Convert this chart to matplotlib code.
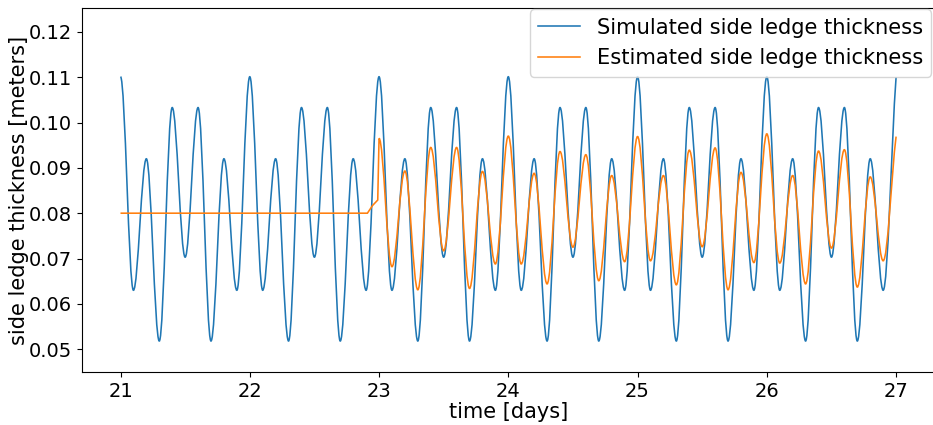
import matplotlib
matplotlib.use("Agg")
import matplotlib.pyplot as plt
from matplotlib.path import Path
from matplotlib.patches import PathPatch
from matplotlib.lines import Line2D

# ---- data (extrema of the oscillations) ----
sim_t = [21.0, 21.1, 21.2, 21.3, 21.4, 21.5, 21.6, 21.7, 21.8, 21.9,
         22.0, 22.1, 22.2, 22.3, 22.4, 22.5, 22.6, 22.7, 22.8, 22.9,
         23.0, 23.1, 23.2, 23.3, 23.4, 23.5, 23.6, 23.7, 23.8, 23.9,
         24.0, 24.1, 24.2, 24.3, 24.4, 24.5, 24.6, 24.7, 24.8, 24.9,
         25.0, 25.1, 25.2, 25.3, 25.4, 25.5, 25.6, 25.7, 25.8, 25.9,
         26.0, 26.1, 26.2, 26.3, 26.4, 26.5, 26.6, 26.7, 26.8, 26.9,
         27.0]
sim_v = [0.1101, 0.0630, 0.0920, 0.0518, 0.1033, 0.0703, 0.1033, 0.0518, 0.0920, 0.0630,
         0.1101, 0.0630, 0.0920, 0.0518, 0.1033, 0.0703, 0.1033, 0.0518, 0.0920, 0.0630,
         0.1101, 0.0630, 0.0920, 0.0518, 0.1033, 0.0703, 0.1033, 0.0518, 0.0920, 0.0630,
         0.1101, 0.0630, 0.0920, 0.0518, 0.1033, 0.0703, 0.1033, 0.0518, 0.0920, 0.0630,
         0.1101, 0.0630, 0.0920, 0.0518, 0.1033, 0.0703, 0.1033, 0.0518, 0.0920, 0.0630,
         0.1101, 0.0630, 0.0920, 0.0518, 0.1033, 0.0703, 0.1033, 0.0518, 0.0920, 0.0630,
         0.1100]

# estimator: constant initial guess, short ramp, then tracking oscillation
est_flat_t = [21.0, 22.91, 22.95, 22.99]
est_flat_v = [0.0800, 0.0800, 0.0817, 0.0829]
est_t = [23.0, 23.1, 23.2, 23.3, 23.4, 23.5, 23.6, 23.7, 23.8, 23.9,
         24.0, 24.1, 24.2, 24.3, 24.4, 24.5, 24.6, 24.7, 24.8, 24.9,
         25.0, 25.1, 25.2, 25.3, 25.4, 25.5, 25.6, 25.7, 25.8, 25.9,
         26.0, 26.1, 26.2, 26.3, 26.4, 26.5, 26.6, 26.7, 26.8, 26.9,
         27.0]
est_v = [0.0965, 0.0682, 0.0893, 0.0631, 0.0945, 0.0717, 0.0945, 0.0634, 0.0892, 0.0688,
         0.0970, 0.0688, 0.0888, 0.0644, 0.0936, 0.0725, 0.0929, 0.0651, 0.0883, 0.0693,
         0.0969, 0.0695, 0.0883, 0.0642, 0.0939, 0.0726, 0.0944, 0.0631, 0.0890, 0.0691,
         0.0975, 0.0690, 0.0883, 0.0644, 0.0937, 0.0723, 0.0940, 0.0637, 0.0880, 0.0695,
         0.0969]

labels = ["Simulated side ledge thickness", "Estimated side ledge thickness"]
x_ticks = [21, 22, 23, 24, 25, 26, 27]
y_ticks = [0.05, 0.06, 0.07, 0.08, 0.09, 0.10, 0.11, 0.12]

BLUE = "#1f77b4"
ORANGE = "#ff7f0e"
LW = 1.15
K = 0.3634  # cubic-Bezier handle fraction (smooth rounded extrema)


def smooth_path(ts, vs, lead_t=None, lead_v=None, steep_end=False):
    verts, codes = [], []
    if lead_t:
        for i, (a, b) in enumerate(zip(lead_t, lead_v)):
            verts.append((a, b))
            codes.append(Path.MOVETO if i == 0 else Path.LINETO)
        verts.append((ts[0], vs[0]))
        codes.append(Path.LINETO)
    else:
        verts.append((ts[0], vs[0]))
        codes.append(Path.MOVETO)
    n = len(ts)
    for i in range(n - 1):
        t0, v0, t1, v1 = ts[i], vs[i], ts[i + 1], vs[i + 1]
        dt = t1 - t0
        c2v = v1
        if steep_end and i == n - 2:
            c2v = v1 - 0.3 * (v1 - v0)
        verts += [(t0 + K * dt, v0), (t1 - K * dt, c2v), (t1, v1)]
        codes += [Path.CURVE4] * 3
    return Path(verts, codes)


fig = plt.figure(figsize=(9.33, 4.25), dpi=100)
ax = fig.add_axes([0.0876, 0.124, 0.9144, 0.8565])

ax.add_patch(PathPatch(smooth_path(sim_t, sim_v, steep_end=True),
                       fill=False, edgecolor=BLUE, lw=LW, zorder=2))
ax.add_patch(PathPatch(smooth_path(est_t, est_v, est_flat_t, est_flat_v, steep_end=True),
                       fill=False, edgecolor=ORANGE, lw=LW, zorder=3))

ax.set_xlim(20.7, 27.3)
ax.set_ylim(0.0449, 0.1252)
ax.set_xticks(x_ticks)
ax.set_xticklabels([str(v) for v in x_ticks])
ax.set_yticks(y_ticks)
ax.set_yticklabels([f"{v:.2f}" for v in y_ticks])
ax.tick_params(labelsize=14)
ax.set_xlabel("time [days]", fontsize=15, labelpad=1)
ax.set_ylabel("side ledge thickness [meters]", fontsize=15, labelpad=0)

handles = [Line2D([], [], color=BLUE, lw=LW), Line2D([], [], color=ORANGE, lw=LW)]
ax.legend(handles, labels, loc="upper right", fontsize=15.1,
          bbox_to_anchor=(0.997, 1.0), borderaxespad=0.05)

fig.savefig("out.png", dpi=100)
